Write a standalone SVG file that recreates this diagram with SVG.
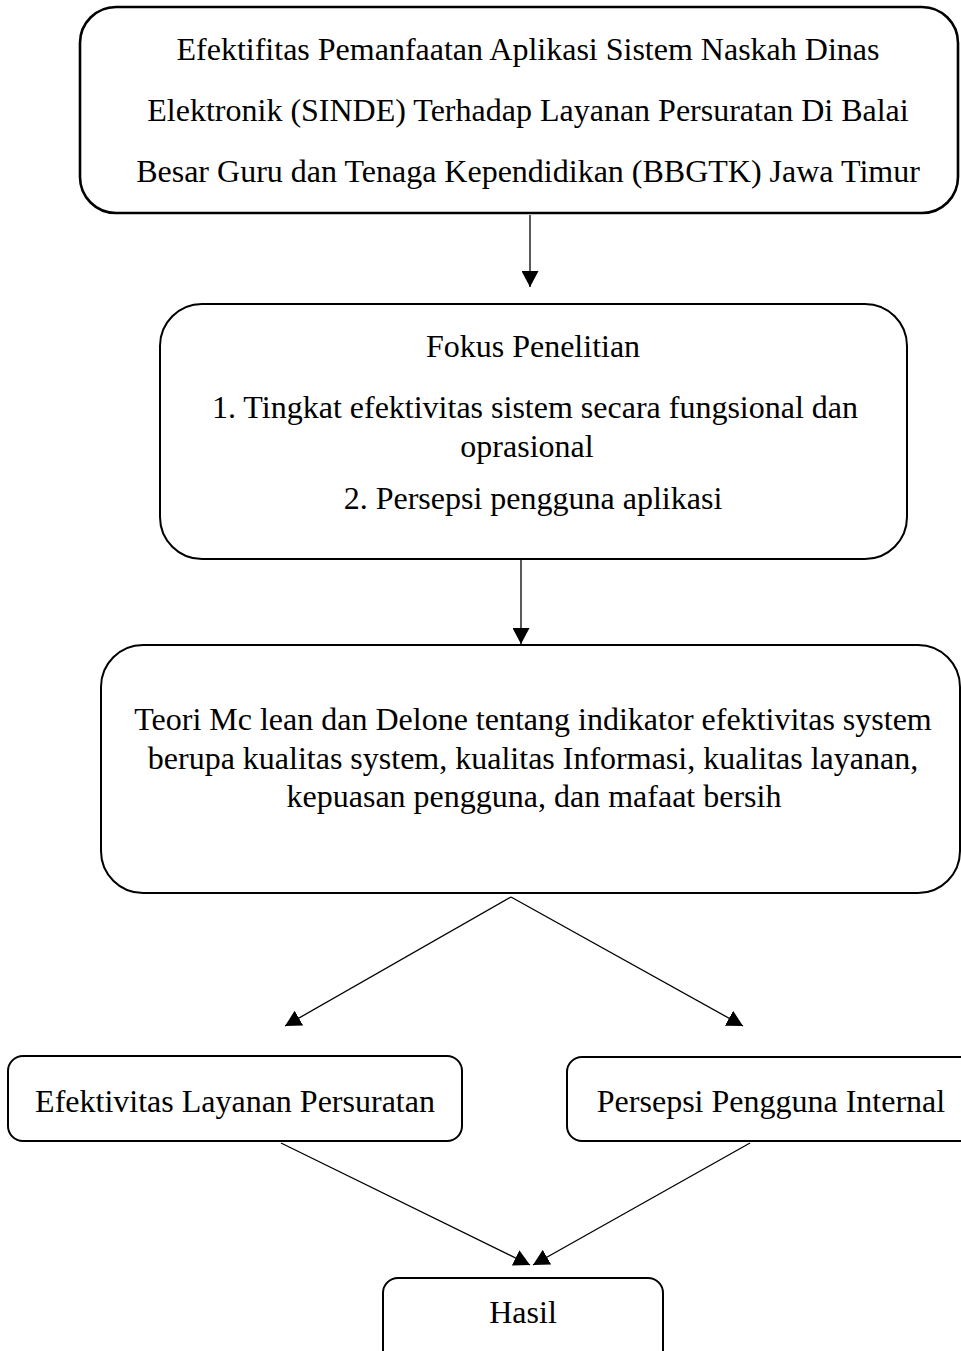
<svg xmlns="http://www.w3.org/2000/svg" width="961" height="1351" viewBox="0 0 961 1351">
<style>
.box{fill:#fff;stroke:#000;stroke-width:2}
.t{font-family:"Liberation Serif","Times New Roman",serif;font-size:32px;fill:#000;text-anchor:middle}
.c{stroke:#000;stroke-width:1.3;fill:none;marker-end:url(#ah)}
</style>
<defs>
<marker id="ah" markerUnits="userSpaceOnUse" markerWidth="17" markerHeight="17" refX="16" refY="8.5" orient="auto">
<path d="M0,0 L16,8.5 L0,17 z" fill="#000"/>
</marker>
</defs>
<rect width="961" height="1351" fill="#fff"/>
<g id="connectors">
<line class="c" x1="530" y1="215" x2="530" y2="287"/>
<line class="c" x1="521" y1="560" x2="521" y2="644"/>
<line class="c" x1="511" y1="897" x2="285" y2="1026"/>
<line class="c" x1="511" y1="897" x2="743" y2="1026"/>
<line class="c" x1="281" y1="1143" x2="530" y2="1265"/>
<line class="c" x1="750" y1="1143" x2="533" y2="1265"/>
</g>
<g id="title">
<rect class="box" x="80" y="7" width="878" height="206" rx="36" style="stroke-width:2.6"/>
<text class="t" x="528" y="60">Efektifitas Pemanfaatan Aplikasi Sistem Naskah Dinas</text>
<text class="t" x="528" y="121">Elektronik (SINDE) Terhadap Layanan Persuratan Di Balai</text>
<text class="t" x="528" y="182">Besar Guru dan Tenaga Kependidikan (BBGTK) Jawa Timur</text>
</g>
<g id="fokus">
<rect class="box" x="160" y="304" width="747" height="255" rx="42"/>
<text class="t" x="533" y="357">Fokus Penelitian</text>
<text class="t" x="535" y="418">1. Tingkat efektivitas sistem secara fungsional dan</text>
<text class="t" x="527" y="457">oprasional</text>
<text class="t" x="533" y="509">2. Persepsi pengguna aplikasi</text>
</g>
<g id="teori">
<rect class="box" x="101" y="645" width="859" height="248" rx="42"/>
<text class="t" x="533" y="730">Teori Mc lean dan Delone tentang indikator efektivitas system</text>
<text class="t" x="533" y="769">berupa kualitas system, kualitas Informasi, kualitas layanan,</text>
<text class="t" x="534" y="807">kepuasan pengguna, dan mafaat bersih</text>
</g>
<g id="efektivitas">
<rect class="box" x="8" y="1056" width="454" height="85" rx="15"/>
<text class="t" x="235" y="1112">Efektivitas Layanan Persuratan</text>
</g>
<g id="persepsi">
<rect class="box" x="567" y="1057" width="410" height="84" rx="15"/>
<text class="t" x="771" y="1112">Persepsi Pengguna Internal</text>
</g>
<g id="hasil">
<rect class="box" x="383" y="1278" width="280" height="90" rx="15"/>
<text class="t" x="523" y="1323">Hasil</text>
</g>
</svg>
